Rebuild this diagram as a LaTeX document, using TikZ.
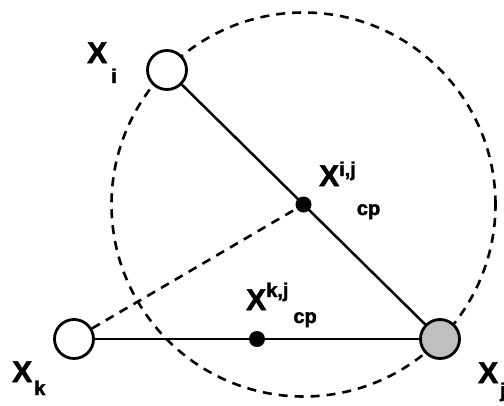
\documentclass[tikz,border=0pt]{standalone}
\usepackage{fontspec}
\setmainfont{Liberation Sans}[BoldFeatures={FakeBold=2}]
\usetikzlibrary{calc}
\tikzset{
  vertex/.style={circle, draw, line width=2.8pt, minimum size=39pt, inner sep=0pt, fill=white},
  cpdot/.style={circle, fill=black, minimum size=16pt, inner sep=0pt},
  edge line/.style={line width=2.5pt},
  dash line/.style={line width=2.6pt, dash pattern=on 9pt off 7pt},
  lbl/.style={anchor=base west, inner sep=0pt, font=\bfseries\fontsize{30}{30}\selectfont},
}
\newcommand{\idxfont}{\bfseries\fontsize{20}{20}\selectfont}

\begin{document}
\begin{tikzpicture}[x=1pt, y=-1pt]
\useasboundingbox (0,0) rectangle (504,405);
\coordinate (pi) at (167,70);
\coordinate (pj) at (440,339);
\coordinate (pk) at (74,339);
\coordinate (mij) at ($(pi)!0.5!(pj)$);
\coordinate (mkj) at ($(pk)!0.5!(pj)$);
% circle on the diameter i--j
\draw[dash line] (mij) circle (192pt);
\node[vertex] (Xi) at (pi) {};
\node[vertex, fill=gray!50] (Xj) at (pj) {};
\node[vertex] (Xk) at (pk) {};
\node[cpdot] (cpij) at (mij) {};
\node[cpdot] (cpkj) at (mkj) {};
\draw[edge line] (Xi) -- (Xj);
\draw[edge line] (Xk) -- (Xj);
\draw[dash line] (Xk) -- (cpij);
% labels
\node[lbl] (li) at (87,63) {X\hspace{4pt}\raisebox{-20pt}{\idxfont i}};
\node[lbl] (lk) at (12,382) {X\hspace{2pt}\raisebox{-13pt}{\idxfont k}};
\node[lbl] (lj) at (478,383) {X\hspace{2pt}\raisebox{-14pt}{\idxfont j}};
\node[lbl] (lcpij) at (319,186) {X\raisebox{10pt}{\idxfont i,j}\hspace{1pt}\raisebox{-29pt}{\idxfont cp}};
\node[lbl] (lcpkj) at (246,310) {X\raisebox{13pt}{\idxfont k,j}\hspace{5pt}\raisebox{-13pt}{\idxfont cp}};
\end{tikzpicture}
\end{document}
